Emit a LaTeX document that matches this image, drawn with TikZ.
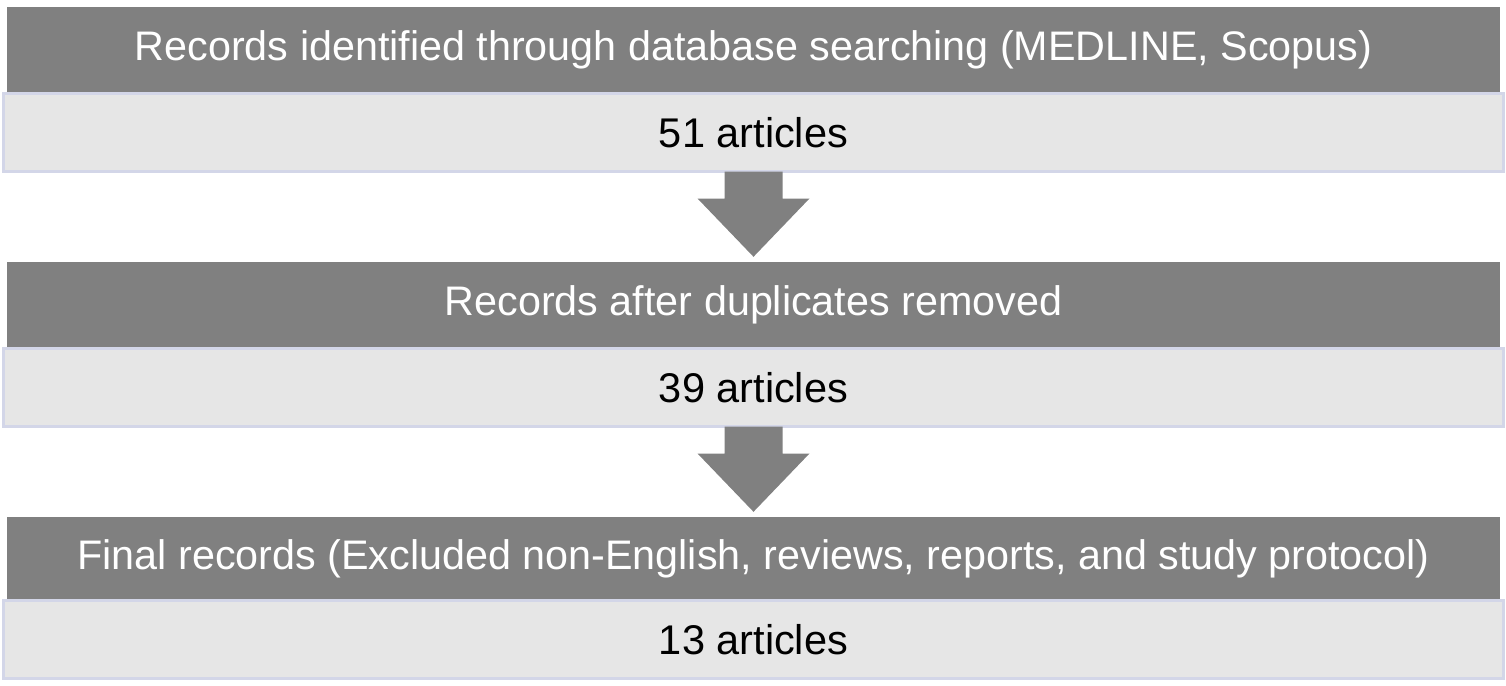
\documentclass[tikz,border=0pt]{standalone}
\usepackage{fontspec}
\setmainfont{Liberation Sans}
\usetikzlibrary{calc}
\definecolor{darkg}{HTML}{808080}
\definecolor{lightg}{HTML}{E6E6E6}
\definecolor{lav}{HTML}{D3D6E8}
\begin{document}
\begin{tikzpicture}[x=1pt,y=-1pt,
  head/.style={fill=darkg, text=white, minimum width=1493pt, minimum height=85pt, inner sep=0pt, font=\fontsize{41.3}{46}\selectfont},
  body/.style={fill=lightg, draw=lav, line width=3pt, minimum width=1500pt, minimum height=78pt, inner sep=0pt, font=\fontsize{41.5}{46}\selectfont},
  blockarrow/.style={fill=darkg}]
\useasboundingbox (0,0) rectangle (1506,685);
\node[head] (h1) at (753.5,49.5) {Records identified through database searching (MEDLINE, Scopus)};
\node[body] (b1) at (753.5,132.5) {51 articles};
\node[head] (h2) at (753.5,304.5) {Records after duplicates removed};
\node[body] (b2) at (753.5,387.5) {39 articles};
\node[head, minimum height=83pt] (h3) at (753.5,558.5) {Final records (Excluded non-English, reviews, reports, and study protocol)};
\node[body] (b3) at (753.5,639.5) {13 articles};
\foreach \a/\b in {b1/h2, b2/h3}{
  \coordinate (s) at ($(\a.south)+(0,-1.5)$);
  \coordinate (t) at ($(\b.north)+(0,-5)$);
  \fill[blockarrow] ($(s)+(-29,0)$) -- ($(s)+(29,0)$) -- ($(s)+(29,27)$) -- ($(s)+(56,27)$) -- (t) -- ($(s)+(-56,27)$) -- ($(s)+(-29,27)$) -- cycle;
}
\end{tikzpicture}
\end{document}
